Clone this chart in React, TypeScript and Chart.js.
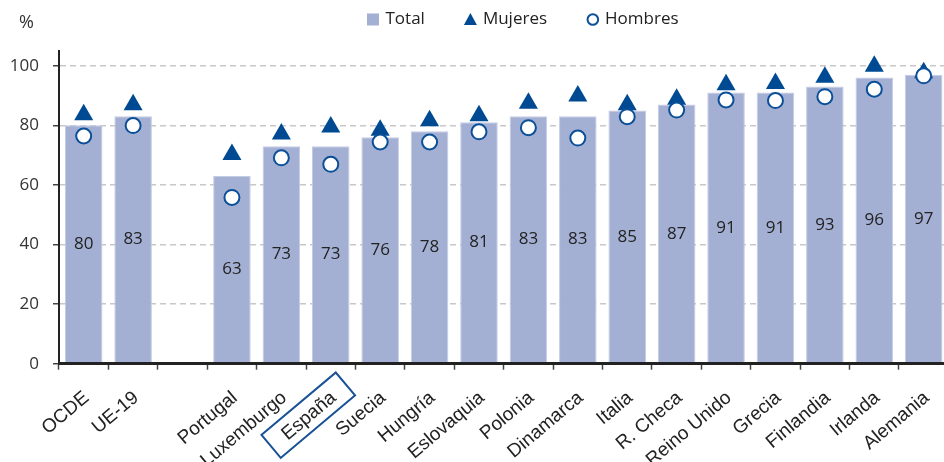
import React, { useEffect, useRef } from 'react';
import { Chart, registerables } from 'chart.js';

Chart.register(...registerables);

const categories = ['OCDE', 'UE-19', '', 'Portugal', 'Luxemburgo', 'España', 'Suecia', 'Hungría', 'Eslovaquia', 'Polonia', 'Dinamarca', 'Italia', 'R. Checa', 'Reino Unido', 'Grecia', 'Finlandia', 'Irlanda', 'Alemania'];
const totalValues = [80, 83, null, 63, 73, 73, 76, 78, 81, 83, 83, 85, 87, 91, 91, 93, 96, 97];
const mujeresValues = [83.5, 86.9, null, 70.2, 77.1, 79.4, 78.3, 81.5, 83.2, 87.4, 89.8, 86.9, 88.7, 93.6, 94.0, 96.1, 99.8, 97.6];
const hombresValues = [76.4, 79.9, null, 55.8, 69.1, 66.9, 74.4, 74.4, 77.8, 79.2, 75.7, 82.9, 85.1, 88.5, 88.3, 89.6, 92.1, 96.6];
const seriesNames = ['Total', 'Mujeres', 'Hombres'];
const highlightedCategory = 'España';
const unitLabel = '%';

const BAR = '#a4b0d3';
const BAR_EDGE = '#c4cce4';
const BLUE = '#004a93';
const CIRCLE_BLUE = '#0a4f97';
const TEXT = '#222222';

export default function App() {
  const ref = useRef<HTMLCanvasElement>(null);

  useEffect(() => {
    const canvas = ref.current!;

    const barLabels = {
      id: 'barLabels',
      afterDatasetsDraw(chart: any) {
        const ctx = chart.ctx;
        const meta = chart.getDatasetMeta(0);
        ctx.save();
        ctx.font = '17px "Open Sans"';
        ctx.fillStyle = TEXT;
        ctx.textAlign = 'center';
        ctx.textBaseline = 'middle';
        meta.data.forEach((el: any, i: number) => {
          const v = totalValues[i];
          if (v == null) return;
          ctx.fillText(String(Math.round(v)), el.x, (el.y + el.base) / 2);
        });
        ctx.restore();
      },
    };

    const extras = {
      id: 'extras',
      afterDraw(chart: any) {
        const ctx = chart.ctx;
        ctx.save();
        // unit label
        ctx.font = '18px "Open Sans"';
        ctx.fillStyle = '#333';
        ctx.textAlign = 'center';
        ctx.textBaseline = 'middle';
        ctx.fillText(unitLabel, 26.5, 22.5);

        // legend
        ctx.font = '17px "Open Sans"';
        ctx.textAlign = 'left';
        ctx.fillStyle = TEXT;
        let x = 367;
        const cy = 19.5;
        seriesNames.forEach((name, i) => {
          if (i === 0) {
            ctx.fillStyle = BAR;
            ctx.fillRect(x, cy - 6, 12, 12);
          } else if (i === 1) {
            ctx.fillStyle = BLUE;
            ctx.beginPath();
            ctx.moveTo(x + 6, cy - 6.5);
            ctx.lineTo(x + 12.5, cy + 5.5);
            ctx.lineTo(x - 0.5, cy + 5.5);
            ctx.closePath();
            ctx.fill();
          } else {
            ctx.beginPath();
            ctx.arc(x + 6.3, cy, 5.3, 0, Math.PI * 2);
            ctx.fillStyle = '#fff';
            ctx.fill();
            ctx.lineWidth = 2;
            ctx.strokeStyle = CIRCLE_BLUE;
            ctx.stroke();
          }
          ctx.fillStyle = TEXT;
          const tx = x + 18.5;
          ctx.fillText(name, tx, cy);
          x = tx + ctx.measureText(name).width + 39.5;
        });

        // highlight box around one category label
        const xScale = chart.scales.x;
        const items = xScale.getLabelItems();
        const idx = categories.indexOf(highlightedCategory);
        const item = items.find((it: any) => it.label === highlightedCategory) || items[idx];
        if (item) {
          const o = item.options;
          ctx.translate(o.translation[0], o.translation[1]);
          ctx.rotate(o.rotation);
          ctx.font = item.font.string;
          ctx.textBaseline = o.textBaseline;
          ctx.textAlign = o.textAlign;
          const m = ctx.measureText(item.label);
          const w = m.width;
          const cyl = item.textOffset + (m.fontBoundingBoxDescent - m.fontBoundingBoxAscent) / 2;
          const cxl = o.textAlign === 'right' ? -w / 2 : o.textAlign === 'left' ? w / 2 : 0;
          ctx.strokeStyle = '#1a5296';
          ctx.lineWidth = 2;
          ctx.strokeRect(cxl - 48.5, cyl - 15, 97, 30);
        }
        ctx.restore();
      },
    };

    const chart = new Chart(canvas, {
      type: 'bar',
      data: {
        labels: categories,
        datasets: [
          {
            type: 'bar',
            label: seriesNames[0],
            data: totalValues,
            backgroundColor: BAR,
            borderColor: BAR_EDGE,
            borderWidth: 1,
            barPercentage: 0.76,
            categoryPercentage: 1,
            order: 3,
          },
          {
            type: 'line',
            label: seriesNames[1],
            data: mujeresValues,
            showLine: false,
            pointStyle: 'triangle',
            pointRadius: 11,
            pointBackgroundColor: BLUE,
            pointBorderColor: BLUE,
            pointBorderWidth: 0,
            order: 2,
          },
          {
            type: 'line',
            label: seriesNames[2],
            data: hombresValues,
            showLine: false,
            pointStyle: 'circle',
            pointRadius: 7.5,
            pointBackgroundColor: '#ffffff',
            pointBorderColor: CIRCLE_BLUE,
            pointBorderWidth: 2,
            order: 1,
          },
        ] as any,
      },
      options: {
        responsive: false,
        animation: false,
        events: [],
        layout: { autoPadding: false, padding: { top: 50.8, right: 1.6, left: 0, bottom: 0 } },
        plugins: { legend: { display: false }, tooltip: { enabled: false } },
        scales: {
          x: {
            offset: true,
            grid: { display: true, drawOnChartArea: false, offset: true, tickLength: 6, tickColor: '#444', tickWidth: 1.5 },
            border: { color: '#222', width: 3, z: 1 },
            ticks: {
              autoSkip: false,
              minRotation: 40,
              maxRotation: 40,
              padding: 17,
              labelOffset: 3,
              color: TEXT,
              font: { family: 'Liberation Sans', size: 19 },
            },
            afterFit: (s: any) => {
              s.height = 98.3;
              s.paddingLeft = 0;
              s.paddingRight = 0;
            },
          },
          y: {
            min: 0,
            max: 105,
            ticks: {
              stepSize: 20,
              includeBounds: false,
              padding: 14,
              color: '#333',
              font: { family: 'Open Sans', size: 17 },
            },
            grid: { color: '#c8c8c8', lineWidth: 1.5, tickColor: '#444', tickLength: 6, tickWidth: 1.5 },
            border: { display: true, color: '#222', width: 2, dash: [6, 4], z: 1 },
            afterFit: (s: any) => { s.width = 59; },
          },
        },
      } as any,
      plugins: [barLabels, extras],
    });
    return () => chart.destroy();
  }, []);

  return (
    <div style={{ position: 'absolute', left: 0, top: 0, width: 944, height: 462, overflow: 'hidden', background: '#fff' }}>
      <canvas ref={ref} width={950} height={462} style={{ display: 'block' }} />
    </div>
  );
}
